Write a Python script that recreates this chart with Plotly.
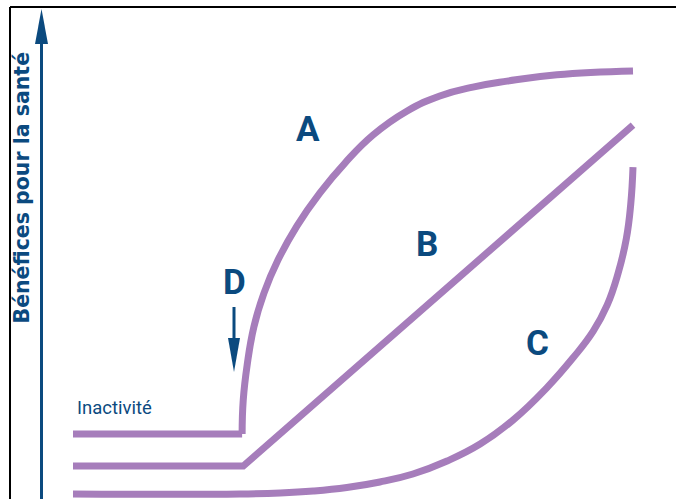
import plotly.graph_objects as go

# niveau d'activité (0-100) et bénéfices pour la santé (0-100)
inact_x = [0, 30.2]
inact_y = [14.2, 14.2]

a_x = [30.2, 30.4, 31.1, 32.3, 34.1, 36.6, 40.0, 44.1, 48.6, 53.6, 59.6, 65.5, 71.4, 77.5, 86.4, 100]
a_y = [14.2, 22.2, 30.5, 39.5, 47.5, 55.3, 63.4, 71.2, 78.3, 84.9, 90.5, 94.1, 96.2, 97.6, 99.1, 100]

b_x = [0, 30.4, 100]
b_y = [6.6, 6.6, 87.2]

c_x = [0, 29.8, 37.0, 42.9, 48.9, 54.8, 60.7, 66.8, 72.7, 78.6, 84.6, 89.3, 92.9, 95.4, 97.3, 98.8, 99.6, 100]
c_y = [0, 0, 0.24, 0.71, 1.54, 2.84, 4.73, 7.8, 11.8, 17.5, 25.1, 32.2, 38.5, 44.7, 52.0, 60.3, 68.6, 77.3]

labels = ["A", "B", "C", "D"]
label_x = [42.0, 63.2, 83.0, 28.9]
label_y = [86.1, 58.9, 35.5, 50.1]

W, H = 676, 499
violet = "#a67dbb"
bleu = "#0b4a7f"
narrow = "Liberation Sans Narrow, Arial Narrow, Roboto, sans-serif"


def px(x):
    return x / W


def py(y):
    return 1 - y / H


fig = go.Figure()
for xs, ys, shape in [(inact_x, inact_y, "linear"), (a_x, a_y, "spline"),
                      (b_x, b_y, "linear"), (c_x, c_y, "spline")]:
    fig.add_trace(go.Scatter(x=xs, y=ys, mode="lines",
                             line=dict(color=violet, width=7, shape=shape, smoothing=1.3),
                             hoverinfo="skip", showlegend=False))

for t, x, y in zip(labels, label_x, label_y):
    fig.add_annotation(x=x, y=y, text=t, showarrow=False,
                       font=dict(family=narrow, size=35, color=bleu, weight="bold"))

fig.add_annotation(x=0.3, y=20.3, text="Inactivité", showarrow=False, xanchor="left",
                   font=dict(family=narrow, size=18.5, color=bleu))

fig.add_annotation(xref="paper", yref="paper", x=px(21.5), y=py(188), text="Bénéfices pour la santé",
                   textangle=-90, showarrow=False, xanchor="center", yanchor="middle",
                   font=dict(family="DejaVu Sans, sans-serif", size=20.5, color=bleu, weight="bold"))

# cadre
fig.add_shape(type="line", xref="paper", yref="paper", x0=px(10), x1=1, y0=py(7), y1=py(7),
              line=dict(color="black", width=2))
fig.add_shape(type="line", xref="paper", yref="paper", x0=px(10), x1=px(10), y0=py(7), y1=0,
              line=dict(color="black", width=2))

# axe vertical avec flèche
fig.add_shape(type="line", xref="paper", yref="paper", x0=px(41.5), x1=px(41.5), y0=0, y1=py(40),
              line=dict(color=bleu, width=3))
fig.add_shape(type="path", xref="paper", yref="paper",
              path=f"M {px(35)},{py(44)} L {px(41.5)},{py(9)} L {px(48)},{py(44)} Z",
              fillcolor=bleu, line=dict(width=0))

# flèche D
fig.add_shape(type="line", xref="paper", yref="paper", x0=px(234), x1=px(234), y0=py(307), y1=py(345),
              line=dict(color=bleu, width=3))
fig.add_shape(type="path", xref="paper", yref="paper",
              path=f"M {px(228)},{py(338)} L {px(234)},{py(372)} L {px(240)},{py(338)} Z",
              fillcolor=bleu, line=dict(width=0))

fig.update_layout(width=W, height=H, margin=dict(l=0, r=0, t=0, b=0),
                  paper_bgcolor="white", plot_bgcolor="white")
fig.update_xaxes(range=[-73 / 5.6, (W - 73) / 5.6], visible=False)
fig.update_yaxes(range=[(494 - H) / 4.23, 494 / 4.23], visible=False)

fig.write_html("out.html", config={"displayModeBar": False},
               post_script="document.body.style.margin='0px';document.body.style.overflow='hidden';")
